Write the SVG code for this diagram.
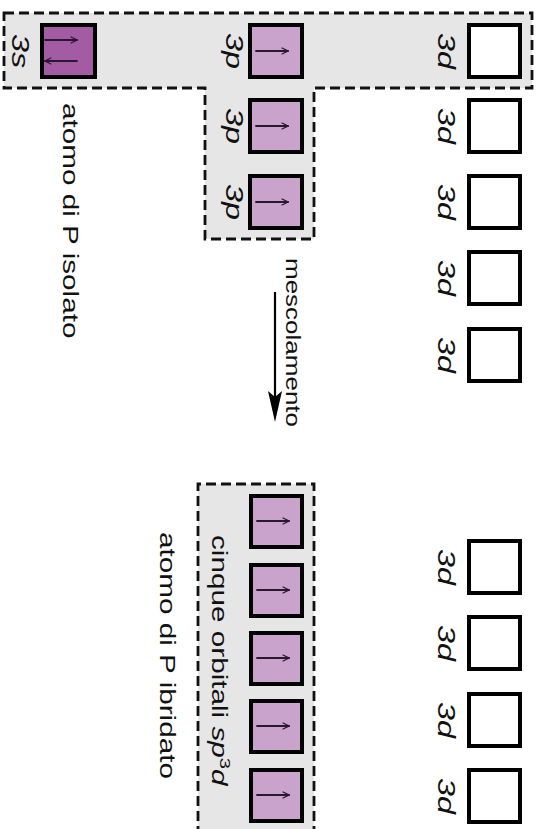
<svg xmlns="http://www.w3.org/2000/svg" width="539" height="829" viewBox="0 0 539 829">
<style>
.region{fill:#e6e6e6;stroke:#111;stroke-width:2.8;stroke-dasharray:10 5}
.box{stroke:#000;stroke-width:4}
.s{fill:#a35ca3}
.p{fill:#c9a3cc}
.d{fill:#fff}
.spin{stroke:#2a1830;stroke-width:1.8;fill:none;stroke-linecap:round;stroke-linejoin:round}
.lbl{font-family:"Liberation Sans",Arial,sans-serif;font-size:24px;font-style:italic;fill:#111}
.txt{font-family:"Liberation Sans",Arial,sans-serif;font-size:22px;fill:#111}
.it{font-style:italic}
</style>
<defs>
<marker id="sp" viewBox="0 0 10 10" refX="9" refY="5" markerWidth="8" markerHeight="8" markerUnits="userSpaceOnUse" orient="auto">
<path d="M1,1 L9,5 L1,9" fill="none" stroke="#2a1830" stroke-width="1.5"/>
</marker>
</defs>
<g id="region-isolated">
<path class="region" d="M4,13 H532 V88 H314 V239 H205 V88 H4 Z"/>
</g>
<g id="region-hybrid">
<path class="region" d="M198,836 V484 H314 V836"/>
</g>
<g id="node-3s">
<rect class="box s" x="42" y="25" width="53" height="52"/>
<line class="spin" x1="45" y1="40" x2="77" y2="40" marker-end="url(#sp)"/>
<line class="spin" x1="77" y1="61" x2="45" y2="61" marker-end="url(#sp)"/>
<text class="lbl" text-anchor="middle" transform="translate(12,51) rotate(90) scale(1.35,1)">3s</text>
</g>
<g id="node-3p-1">
<rect class="box p" x="250" y="25" width="52" height="52"/>
<line class="spin" x1="256" y1="51" x2="288" y2="51" marker-end="url(#sp)"/>
<text class="lbl" text-anchor="middle" transform="translate(226,51) rotate(90) scale(1.35,1)">3p</text>
</g>
<g id="node-3p-2">
<rect class="box p" x="250" y="100" width="52" height="52"/>
<line class="spin" x1="256" y1="126" x2="288" y2="126" marker-end="url(#sp)"/>
<text class="lbl" text-anchor="middle" transform="translate(226,126) rotate(90) scale(1.35,1)">3p</text>
</g>
<g id="node-3p-3">
<rect class="box p" x="250" y="176" width="52" height="52"/>
<line class="spin" x1="256" y1="202" x2="288" y2="202" marker-end="url(#sp)"/>
<text class="lbl" text-anchor="middle" transform="translate(226,202) rotate(90) scale(1.35,1)">3p</text>
</g>
<g id="node-3d-1">
<rect class="box d" x="469" y="25" width="51" height="52"/>
<text class="lbl" text-anchor="middle" transform="translate(438,51) rotate(90) scale(1.35,1)">3d</text>
</g>
<g id="node-3d-2">
<rect class="box d" x="469" y="100" width="51" height="52"/>
<text class="lbl" text-anchor="middle" transform="translate(438,126) rotate(90) scale(1.35,1)">3d</text>
</g>
<g id="node-3d-3">
<rect class="box d" x="469" y="176" width="51" height="52"/>
<text class="lbl" text-anchor="middle" transform="translate(438,202) rotate(90) scale(1.35,1)">3d</text>
</g>
<g id="node-3d-4">
<rect class="box d" x="469" y="252" width="51" height="52"/>
<text class="lbl" text-anchor="middle" transform="translate(438,278) rotate(90) scale(1.35,1)">3d</text>
</g>
<g id="node-3d-5">
<rect class="box d" x="469" y="329" width="51" height="52"/>
<text class="lbl" text-anchor="middle" transform="translate(438,355) rotate(90) scale(1.35,1)">3d</text>
</g>
<g id="label-isolated">
<text class="txt" transform="translate(63,103) rotate(90) scale(1.35,1)">atomo di P isolato</text>
</g>
<g id="node-sp3d-1">
<rect class="box p" x="251" y="496" width="51" height="51"/>
<line class="spin" x1="257" y1="521" x2="289" y2="521" marker-end="url(#sp)"/>
</g>
<g id="node-sp3d-2">
<rect class="box p" x="251" y="565" width="51" height="51"/>
<line class="spin" x1="257" y1="590" x2="289" y2="590" marker-end="url(#sp)"/>
</g>
<g id="node-sp3d-3">
<rect class="box p" x="251" y="633" width="51" height="51"/>
<line class="spin" x1="257" y1="658" x2="289" y2="658" marker-end="url(#sp)"/>
</g>
<g id="node-sp3d-4">
<rect class="box p" x="251" y="701" width="51" height="51"/>
<line class="spin" x1="257" y1="726" x2="289" y2="726" marker-end="url(#sp)"/>
</g>
<g id="node-sp3d-5">
<rect class="box p" x="251" y="770" width="51" height="51"/>
<line class="spin" x1="257" y1="795" x2="289" y2="795" marker-end="url(#sp)"/>
</g>
<g id="label-sp3d">
<text class="txt" transform="translate(212,535) rotate(90) scale(1.35,1)">cinque orbitali <tspan class="it">sp</tspan><tspan dy="-8" font-size="15">3</tspan><tspan class="it" dy="8">d</tspan></text>
</g>
<g id="node-3d-6">
<rect class="box d" x="469" y="541" width="51" height="52"/>
<text class="lbl" text-anchor="middle" transform="translate(438,567) rotate(90) scale(1.35,1)">3d</text>
</g>
<g id="node-3d-7">
<rect class="box d" x="469" y="617" width="51" height="52"/>
<text class="lbl" text-anchor="middle" transform="translate(438,643) rotate(90) scale(1.35,1)">3d</text>
</g>
<g id="node-3d-8">
<rect class="box d" x="469" y="694" width="51" height="52"/>
<text class="lbl" text-anchor="middle" transform="translate(438,720) rotate(90) scale(1.35,1)">3d</text>
</g>
<g id="node-3d-9">
<rect class="box d" x="469" y="770" width="51" height="52"/>
<text class="lbl" text-anchor="middle" transform="translate(438,796) rotate(90) scale(1.35,1)">3d</text>
</g>
<g id="label-hybrid">
<text class="txt" transform="translate(160,532) rotate(90) scale(1.35,1)">atomo di P ibridato</text>
</g>
<g id="connectors">
<line x1="275" y1="292" x2="275" y2="400" stroke="#000" stroke-width="2.2"/>
<path d="M275,422 L268,391 L275,397 L282,391 Z" fill="#000"/>
<text class="txt" style="font-size:20px" transform="translate(286,258) rotate(90) scale(1.3,1)">mescolamento</text>
</g>
</svg>
